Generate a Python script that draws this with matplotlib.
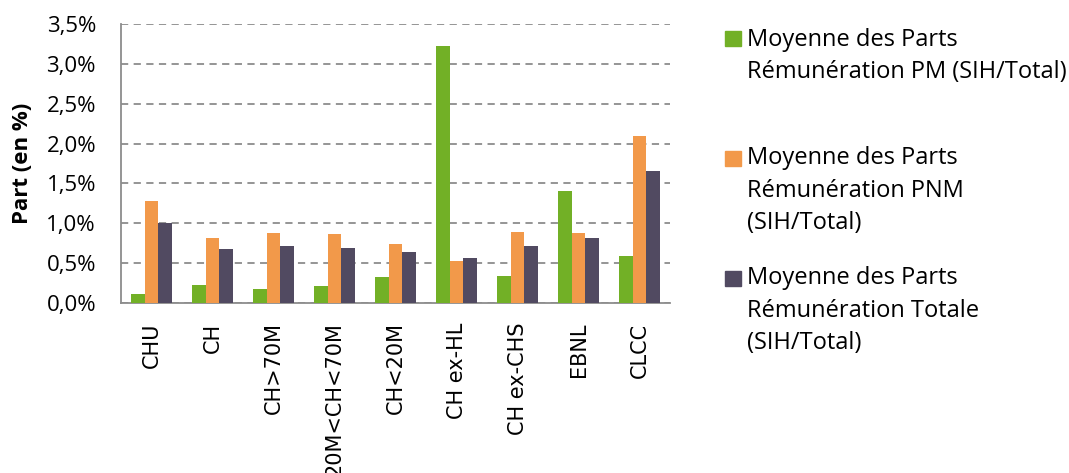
import numpy as np
import matplotlib.pyplot as plt
from matplotlib.patches import Rectangle

# Données (en %)
categories = ["CHU", "CH", "CH>70M", "20M<CH<70M", "CH<20M",
              "CH ex-HL", "CH ex-CHS", "EBNL", "CLCC"]
part_pm = [0.11, 0.23, 0.17, 0.21, 0.33, 3.22, 0.34, 1.40, 0.59]
part_pnm = [1.28, 0.82, 0.88, 0.86, 0.74, 0.53, 0.89, 0.88, 2.10]
part_totale = [1.00, 0.68, 0.71, 0.69, 0.64, 0.56, 0.71, 0.82, 1.66]

series = [part_pm, part_pnm, part_totale]
labels = ["Moyenne des Parts\nRémunération PM (SIH/Total)",
          "Moyenne des Parts\nRémunération PNM\n(SIH/Total)",
          "Moyenne des Parts\nRémunération Totale\n(SIH/Total)"]
couleurs = ["#72b026", "#f2994a", "#514a61"]
yticks = [0, 0.5, 1.0, 1.5, 2.0, 2.5, 3.0, 3.5]

police = "Open Sans"

fig = plt.figure(figsize=(10.69, 4.73), dpi=100)
ax = fig.add_axes([0.1132, 0.3594, 0.5136, 0.5898])

x = np.arange(len(categories))
largeur = 0.22
for i, (vals, c) in enumerate(zip(series, couleurs)):
    ax.bar(x + (i - 1) * largeur, vals, largeur, color=c, zorder=3)

ax.set_xlim(-0.5, len(categories) - 0.5)
ax.set_ylim(0, 3.5)
ax.set_yticks(yticks)
ax.set_yticklabels([("%.1f%%" % v).replace(".", ",") for v in yticks],
                   fontsize=16, family=police)
ax.set_xticks(x)
ax.set_xticklabels(categories, rotation=90, fontsize=15, family="DejaVu Sans")
ax.tick_params(axis="y", length=0, pad=18)
ax.tick_params(axis="x", length=0, pad=14)

ax.grid(axis="y", color="#8c8c8c", linestyle=(0, (4, 3)), linewidth=1.3, zorder=0)
for s in ["top", "right"]:
    ax.spines[s].set_visible(False)
ax.spines["left"].set_color("#8c8c8c")
ax.spines["bottom"].set_color("#8c8c8c")
ax.spines["left"].set_linewidth(1.3)
ax.spines["bottom"].set_linewidth(1.3)

ax.set_ylabel("Part (en %)", fontsize=16, fontweight="bold", family=police)
ax.yaxis.set_label_coords(-0.16, 0.5)

# Légende à droite (base de la première ligne de chaque entrée)
bases = [47, 167, 287]
for lab, c, b in zip(labels, couleurs, bases):
    n = lab.count("\n")
    fig.patches.append(Rectangle((725 / 1069, 1 - (b - 1) / 473), 16 / 1069, 15 / 473,
                                 transform=fig.transFigure, color=c))
    fig.text(747 / 1069, 1 - (b + 31 * n) / 473, lab, fontsize=17, family=police,
             va="baseline", ha="left", linespacing=1.47)

fig.savefig("out.png", dpi=100)
